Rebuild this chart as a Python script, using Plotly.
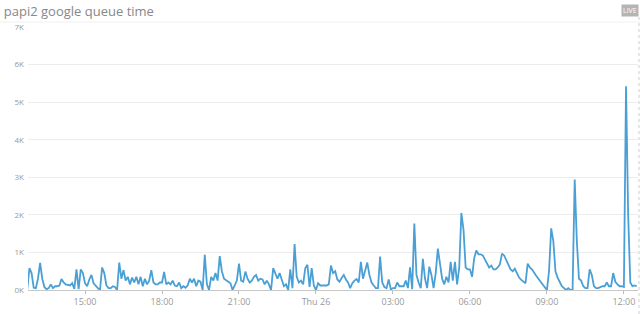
import pandas as pd
import plotly.graph_objects as go

# Queue time samples (in thousands), 5-minute interval starting Wed 25 12:45
queue_k = [
    0.02, 0.58, 0.45, 0.06, 0.05,
    0.3, 0.72, 0.3, 0.08, 0.02,
    0.05, 0.15, 0.05, 0.1, 0.1,
    0.12, 0.29, 0.2, 0.15, 0.14,
    0.12, 0.18, 0.03, 0.55, 0.02,
    0.55, 0.45, 0.18, 0.1, 0.28,
    0.4, 0.18, 0.1, 0.05, 0.0,
    0.6, 0.45, 0.12, 0.05, 0.05,
    0.1, 0.08, 0.0, 0.73, 0.3,
    0.53, 0.25, 0.35, 0.15, 0.33,
    0.2, 0.35, 0.15, 0.35, 0.1,
    0.3, 0.15, 0.25, 0.53, 0.2,
    0.15, 0.15, 0.2, 0.2, 0.48,
    0.15, 0.2, 0.15, 0.25, 0.12,
    0.1, 0.2, 0.05, 0.1, 0.06,
    0.12, 0.3, 0.2, 0.3, 0.1,
    0.25, 0.22, 0.0, 0.94, 0.15,
    0.0, 0.35, 0.25, 0.45, 0.25,
    0.9, 0.5, 0.3, 0.25, 0.22,
    0.18, 0.0, 0.12, 0.25, 0.7,
    0.25, 0.22, 0.49, 0.3, 0.2,
    0.25, 0.35, 0.4, 0.25, 0.3,
    0.28, 0.15, 0.25, 0.15, 0.0,
    0.58, 0.45, 0.3, 0.45, 0.25,
    0.1, 0.15, 0.0, 0.55, 0.05,
    1.22, 0.35, 0.2, 0.25, 0.15,
    0.58, 0.67, 0.08, 0.58, 0.12,
    0.0, 0.18, 0.12, 0.12, 0.1,
    0.12, 0.15, 0.65, 0.45, 0.5,
    0.28, 0.22, 0.32, 0.4, 0.28,
    0.2, 0.05, 0.18, 0.25, 0.29,
    0.2, 0.75, 0.3, 0.5, 0.73,
    0.4, 0.2, 0.12, 0.05, 0.05,
    0.89, 0.2, 0.08, 0.05, 0.28,
    0.02, 0.05, 0.05, 0.2, 0.1,
    0.1, 0.1, 0.25, 0.05, 0.6,
    0.02, 1.77, 0.4, 0.2, 0.05,
    0.83, 0.3, 0.05, 0.62, 0.4,
    0.05, 0.45, 1.1, 0.7, 0.3,
    0.15, 0.35, 0.2, 0.75, 0.25,
    0.75, 0.15, 0.6, 2.05, 1.6,
    0.6, 0.55, 0.55, 0.35, 0.85,
    1.05, 0.95, 0.95, 0.92, 0.8,
    0.68, 0.6, 0.65, 0.55, 0.55,
    0.6, 0.68, 0.97, 0.92, 0.78,
    0.68, 0.55, 0.5, 0.57, 0.45,
    0.33, 0.27, 0.22, 0.18, 0.7,
    0.6, 0.55, 0.48, 0.38, 0.3,
    0.22, 0.15, 0.05, 0.0, 0.5,
    1.64, 1.3, 0.5, 0.33, 0.2,
    0.1, 0.05, 0.0, 0.05, 0.0,
    0.0, 2.94, 1.3, 0.3, 0.25,
    0.1, 0.05, 0.05, 0.55, 0.4,
    0.1, 0.05, 0.05, 0.08, 0.1,
    0.1, 0.2, 0.1, 0.1, 0.45,
    0.22, 0.15, 0.1, 0.1, 0.08,
    5.42, 2.0, 0.2, 0.1, 0.12, 0.1,
]
start_time = "2017-10-25 12:45"
times = pd.date_range(start_time, periods=len(queue_k), freq="5min")

x_tick_vals = ["2017-10-25 15:00", "2017-10-25 18:00", "2017-10-25 21:00",
               "2017-10-26 00:00", "2017-10-26 03:00", "2017-10-26 06:00",
               "2017-10-26 09:00", "2017-10-26 12:00"]
x_tick_text = ["15:00", "18:00", "21:00", "Thu 26", "03:00", "06:00", "09:00", "12:00"]
y_tick_vals = [0, 1, 2, 3, 4, 5, 6, 7]
y_tick_text = ["0K", "1K", "2K", "3K", "4K", "5K", "6K", "7K"]

fig = go.Figure()
fig.add_trace(go.Scatter(
    x=times, y=queue_k, mode="lines",
    line=dict(color="#4a9fd5", width=1.8),
    hoverinfo="skip",
))

fig.update_layout(
    width=640, height=314,
    margin=dict(l=28, r=2, t=27, b=24),
    paper_bgcolor="white", plot_bgcolor="white",
    showlegend=False,
    font=dict(family="Open Sans, Noto Sans, sans-serif", color="#999"),
    title=dict(text="papi2 google queue time", x=0.006, xanchor="left",
               y=1 - 11.5 / 314, yanchor="middle", yref="container",
               font=dict(size=13, color="#888")),
    xaxis=dict(
        range=["2017-10-25 12:46:40", "2017-10-26 12:33:00"],
        tickvals=x_tick_vals, ticktext=x_tick_text,
        showgrid=False, zeroline=False,
        showline=False,
        ticks="outside", ticklen=3, tickcolor="#bbb", tickwidth=1,
        tickfont=dict(size=9, color="#999"),
    ),
    yaxis=dict(
        range=[0, 7], tickvals=y_tick_vals, ticktext=y_tick_text,
        showgrid=True, gridcolor="#ececec", gridwidth=1,
        zeroline=True, zerolinecolor="#c8c8c8", zerolinewidth=1,
        tickfont=dict(size=8, color="#999"),
        ticks="", ticklabelstandoff=3,
    ),
)

# header separator line
fig.add_shape(type="line", xref="paper", yref="paper",
              x0=-28 / 610, x1=1 + 2 / 610, y0=1 + 5 / 263, y1=1 + 5 / 263,
              line=dict(color="#f0f0f0", width=1))
# right dotted border
fig.add_shape(type="line", xref="paper", yref="paper",
              x0=1 + 1 / 610, x1=1 + 1 / 610, y0=-24 / 263, y1=1 + 12 / 263,
              line=dict(color="#cfcfcf", width=1, dash="dot"))
# LIVE badge
fig.add_annotation(text="LIVE", xref="paper", yref="paper",
                   x=1 + 1 / 610, y=1 + 16 / 263, xanchor="right", yanchor="middle",
                   showarrow=False, bgcolor="#b4b4b4", borderpad=1,
                   font=dict(size=7, color="white"))

fig.write_html("out.html")
